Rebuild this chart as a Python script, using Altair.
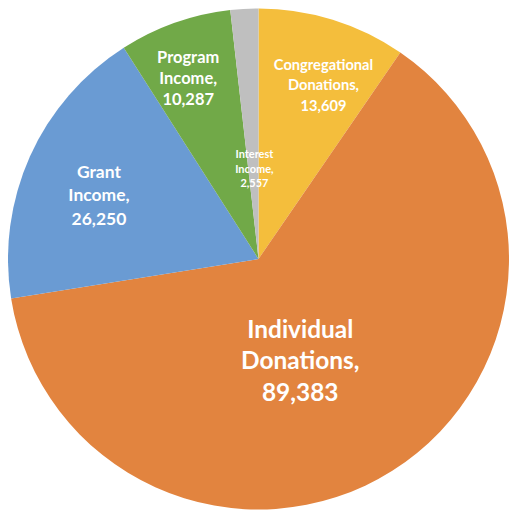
import altair as alt
import pandas as pd

categories = ["Congregational Donations", "Individual Donations", "Grant Income",
              "Program Income", "Interest Income"]
values = [13609, 89383, 26250, 10287, 2557]
colors = ["#F4BE3C", "#E2843F", "#6A9BD3", "#71A948", "#BFBFBF"]

labels = [c.replace(" ", "\n") + ",\n" + f"{v:,}" for c, v in zip(categories, values)]
total = sum(values)

df = pd.DataFrame({
    "category": categories,
    "value": values,
    "order": list(range(len(categories))),
    "label": labels,
})

CX, CY, R = 250, 250, 251
theta_scale = alt.Scale(domain=[0, total])

base = alt.Chart(df)

pie = base.mark_arc(outerRadius=R, strokeWidth=0).encode(
    theta=alt.Theta("value:Q", stack=True, scale=theta_scale),
    color=alt.Color("category:N", scale=alt.Scale(domain=categories, range=colors), legend=None),
    order=alt.Order("order:Q"),
    x=alt.value(CX),
    y=alt.value(CY),
)

# per-label styling: (radius, fontSize, lineHeight, dx, dy)
styles = {
    "Congregational Donations": (186, 14.7, 20.5, 10, -16),
    "Individual Donations": (112, 24.5, 32, -18, -23),
    "Grant Income": (172, 17.5, 23.5, -3, -16),
    "Program Income": (193, 16.5, 21, -6, -19),
    "Interest Income": (90, 11, 14.5, 1, -14),
}

layers = [pie]
for cat in categories:
    r, fs, lh, dx, dy = styles[cat]
    t = base.transform_window(
        cum="sum(value)", sort=[alt.SortField("order")]
    ).transform_calculate(
        mid="datum.cum - datum.value / 2"
    ).transform_filter(
        alt.datum.category == cat
    ).mark_text(
        radius=r, fontSize=fs, lineHeight=lh, dx=dx, dy=dy,
        font="Lato", fontWeight="bold", color="white",
        align="center", baseline="middle", lineBreak="\n",
    ).encode(
        theta=alt.Theta("mid:Q", stack=False, scale=theta_scale),
        text=alt.Text("label:N"),
        x=alt.value(CX),
        y=alt.value(CY),
    )
    layers.append(t)

chart = alt.layer(*layers).properties(
    width=502, height=500, padding=0, background="white"
).configure_view(stroke=None)

chart.save("out.html", embed_options={"renderer": "svg", "actions": False})
